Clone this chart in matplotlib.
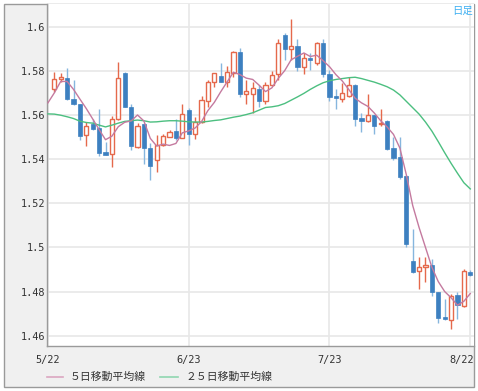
import matplotlib
matplotlib.use("Agg")
import matplotlib.pyplot as plt
import matplotlib.transforms as mtransforms
from matplotlib.patches import Rectangle
from matplotlib.lines import Line2D

# ---- data (candle index 1..66; MAs index 0..66) ----
opens = [1.5720, 1.5763, 1.5767, 1.5673, 1.5648, 1.5510, 1.5558, 1.5539, 1.5431, 1.5421,
         1.5580, 1.5791, 1.5637, 1.5456, 1.5560, 1.5451, 1.5398, 1.5463, 1.5501, 1.5527,
         1.5497, 1.5622, 1.5513, 1.5566, 1.5664, 1.5748, 1.5775, 1.5751, 1.5788, 1.5887,
         1.5696, 1.5695, 1.5720, 1.5664, 1.5737, 1.5785, 1.5961, 1.5899, 1.5912, 1.5816,
         1.5859, 1.5834, 1.5927, 1.5785, 1.5686, 1.5673, 1.5687, 1.5738, 1.5587, 1.5574,
         1.5599, 1.5560, 1.5574, 1.5451, 1.5410, 1.5323, 1.4938, 1.4893, 1.4911, 1.4919,
         1.4798, 1.4685, 1.4671, 1.4783, 1.4736, 1.4890]
highs = [1.5796, 1.5791, 1.5814, 1.5758, 1.5650, 1.5566, 1.5584, 1.5625, 1.5477, 1.5595,
         1.5840, 1.5793, 1.5648, 1.5562, 1.5562, 1.5471, 1.5509, 1.5513, 1.5531, 1.5584,
         1.5652, 1.5630, 1.5589, 1.5687, 1.5758, 1.5792, 1.5834, 1.5822, 1.5889, 1.5902,
         1.5758, 1.5750, 1.5735, 1.5750, 1.5800, 1.5943, 1.5970, 1.6036, 1.5946, 1.5882,
         1.5879, 1.5932, 1.5943, 1.5803, 1.5716, 1.5746, 1.5770, 1.5740, 1.5607, 1.5695,
         1.5600, 1.5625, 1.5576, 1.5501, 1.5501, 1.5327, 1.5082, 1.4958, 1.4958, 1.4946,
         1.4800, 1.4765, 1.4789, 1.4799, 1.4904, 1.4898]
lows = [1.5705, 1.5751, 1.5669, 1.5645, 1.5486, 1.5460, 1.5534, 1.5416, 1.5418, 1.5365,
        1.5577, 1.5634, 1.5441, 1.5450, 1.5380, 1.5304, 1.5342, 1.5460, 1.5498, 1.5486,
        1.5495, 1.5463, 1.5492, 1.5562, 1.5637, 1.5725, 1.5750, 1.5725, 1.5770, 1.5680,
        1.5652, 1.5610, 1.5634, 1.5652, 1.5731, 1.5758, 1.5849, 1.5849, 1.5800, 1.5785,
        1.5803, 1.5826, 1.5770, 1.5664, 1.5625, 1.5660, 1.5683, 1.5549, 1.5524, 1.5569,
        1.5516, 1.5549, 1.5441, 1.5398, 1.5312, 1.5000, 1.4882, 1.4813, 1.4843, 1.4780,
        1.4656, 1.4671, 1.4629, 1.4674, 1.4728, 1.4870]
closes = [1.5761, 1.5772, 1.5672, 1.5648, 1.5506, 1.5549, 1.5536, 1.5430, 1.5420, 1.5584,
          1.5767, 1.5637, 1.5459, 1.5552, 1.5451, 1.5369, 1.5466, 1.5504, 1.5521, 1.5497,
          1.5605, 1.5512, 1.5568, 1.5667, 1.5749, 1.5790, 1.5751, 1.5794, 1.5887, 1.5695,
          1.5708, 1.5723, 1.5664, 1.5738, 1.5782, 1.5924, 1.5897, 1.5911, 1.5816, 1.5856,
          1.5847, 1.5924, 1.5785, 1.5682, 1.5676, 1.5701, 1.5738, 1.5584, 1.5574, 1.5599,
          1.5549, 1.5562, 1.5445, 1.5406, 1.5320, 1.5014, 1.4888, 1.4911, 1.4919, 1.4798,
          1.4682, 1.4674, 1.4780, 1.4739, 1.4893, 1.4875]
ma5 = [1.5655, 1.5700, 1.5752, 1.5752, 1.5716, 1.5672, 1.5629, 1.5582, 1.5534, 1.5488,
       1.5504, 1.5547, 1.5567, 1.5573, 1.5600, 1.5573, 1.5494, 1.5459, 1.5468, 1.5462,
       1.5471, 1.5519, 1.5528, 1.5541, 1.5570, 1.5620, 1.5657, 1.5705, 1.5750, 1.5794,
       1.5783, 1.5767, 1.5761, 1.5735, 1.5706, 1.5723, 1.5766, 1.5801, 1.5850, 1.5866,
       1.5881, 1.5865, 1.5871, 1.5846, 1.5819, 1.5783, 1.5754, 1.5716, 1.5676, 1.5655,
       1.5639, 1.5609, 1.5574, 1.5546, 1.5512, 1.5450, 1.5330, 1.5190, 1.5090, 1.5000,
       1.4910, 1.4845, 1.4800, 1.4772, 1.4738, 1.4756, 1.4791]
ma25 = [1.5605, 1.5604, 1.5599, 1.5592, 1.5584, 1.5572, 1.5566, 1.5563, 1.5554, 1.5546,
        1.5554, 1.5563, 1.5571, 1.5574, 1.5577, 1.5574, 1.5568, 1.5569, 1.5572, 1.5574,
        1.5574, 1.5572, 1.5569, 1.5568, 1.5568, 1.5571, 1.5575, 1.5578, 1.5584, 1.5590,
        1.5595, 1.5602, 1.5610, 1.5622, 1.5634, 1.5637, 1.5642, 1.5652, 1.5667, 1.5682,
        1.5698, 1.5716, 1.5732, 1.5746, 1.5755, 1.5761, 1.5765, 1.5769, 1.5771, 1.5765,
        1.5757, 1.5749, 1.5739, 1.5728, 1.5713, 1.5691, 1.5662, 1.5633, 1.5604, 1.5568,
        1.5527, 1.5479, 1.5429, 1.5381, 1.5336, 1.5293, 1.5265]
tick_pos = [0, 22, 44, 66]
tick_labels = ["5/22", "6/23", "7/23", "8/22"]
y_ticks = [1.46, 1.48, 1.50, 1.52, 1.54, 1.56, 1.58, 1.60]
y_labels = ["1.46", "1.48", "1.5", "1.52", "1.54", "1.56", "1.58", "1.6"]
legend_labels = ["５日移動平均線", "２５日移動平均線"]

W, H = 478, 391
fig = plt.figure(figsize=(W / 100, H / 100), dpi=100)
fig.patch.set_facecolor("white")
frame = Rectangle((4 / W, 4 / H), 470 / W, 383 / H, transform=fig.transFigure,
                  facecolor="#f0f0f0", edgecolor="#9a9a9a", linewidth=1.0, zorder=-5)
fig.patches.append(frame)

ax = fig.add_axes([46.5 / W, (H - 346.3) / H, (474 - 46.5) / W, (346.3 - 4) / H])
ax.set_zorder(2)
ax.set_facecolor("white")
ax.set_xlim(-0.22, 66.58)
ax.set_ylim(1.45519, 1.61029)

for s in ["left", "bottom"]:
    ax.spines[s].set_color("#9a9a9a")
    ax.spines[s].set_linewidth(1.0)
for s in ["top", "right"]:
    ax.spines[s].set_visible(False)

ax.set_yticks(y_ticks)
ax.set_yticklabels(y_labels, family="DejaVu Sans Mono", fontsize=7.4, color="#333333")
ax.set_xticks(tick_pos)
ax.set_xticklabels(tick_labels, family="DejaVu Sans Mono", fontsize=7.4, color="#333333")
ax.tick_params(axis="both", length=0)
ax.tick_params(axis="y", pad=1)
ax.tick_params(axis="x", pad=6)
ax.grid(True, color="#e8e8e8", linewidth=1.2, zorder=0)
ax.set_axisbelow(True)
last = ax.get_xticklabels()[-1]
last.set_ha("right")
last.set_transform(last.get_transform() + mtransforms.ScaledTranslation(4 / 100, 0, fig.dpi_scale_trans))

up_col = "#e5694c"
dn_body = "#3d80c0"
dn_wick = "#86b6de"
bw = 0.64
minh = 0.00035
xs = list(range(1, len(opens) + 1))
for x, o, h, l, c in zip(xs, opens, highs, lows, closes):
    if c >= o:
        ax.vlines(x, l, h, color=up_col, linewidth=1.0, zorder=2)
        ax.bar(x, max(c - o, minh), bottom=o, width=bw, facecolor="white",
               edgecolor=up_col, linewidth=1.0, zorder=3)
    else:
        ax.vlines(x, l, h, color=dn_wick, linewidth=1.0, zorder=2)
        ax.bar(x, max(o - c, minh), bottom=c, width=bw, facecolor=dn_body,
               edgecolor=dn_body, linewidth=0.5, zorder=3)

ma_x = list(range(len(ma5)))
ax.plot(ma_x, ma25, color="#4cbf80", linewidth=1.0, zorder=4)
ax.plot(ma_x, ma5, color="#c47a9f", linewidth=1.0, zorder=4)

# label top-right
ax.text(473 / W, (H - 6) / H, "日足", transform=fig.transFigure, ha="right", va="top",
        fontsize=7.5, color="#3fb0f2", family=["Noto Sans CJK JP", "DejaVu Sans"], zorder=6)

# legend
ly = (H - 376.7) / H
fig.lines.append(Line2D([47 / W, 63 / W], [ly, ly], transform=fig.transFigure,
                        color="#dba6c0", linewidth=1.2))
fig.text(70 / W, ly, legend_labels[0], ha="left", va="center", fontsize=7.8,
         color="#333333", family=["Noto Sans CJK JP", "DejaVu Sans"])
fig.lines.append(Line2D([160 / W, 178 / W], [ly, ly], transform=fig.transFigure,
                        color="#8fd6b0", linewidth=1.2))
fig.text(185 / W, ly, legend_labels[1], ha="left", va="center", fontsize=7.8,
         color="#333333", family=["Noto Sans CJK JP", "DejaVu Sans"])

fig.savefig("out.png", dpi=100, facecolor="white")
